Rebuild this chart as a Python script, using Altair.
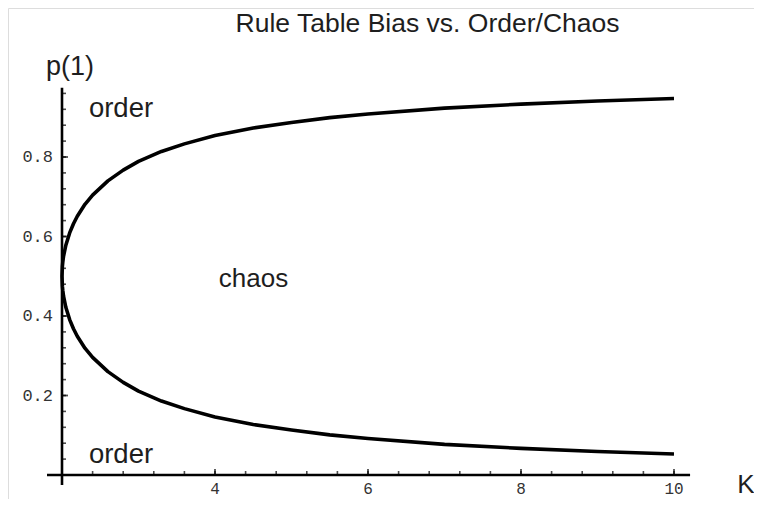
import altair as alt
import pandas as pd

# ---- data ----
K_values = [2.0, 2.005, 2.01, 2.02, 2.05, 2.1, 2.15, 2.2, 2.3, 2.4, 2.6, 2.8, 3.0,
            3.3, 3.6, 4.0, 4.5, 5.0, 5.5, 6.0, 7.0, 8.0, 9.0, 10.0]
upper_p = [0.5, 0.525, 0.535, 0.550, 0.578, 0.609, 0.632, 0.651, 0.681, 0.704, 0.740,
           0.767, 0.789, 0.814, 0.833, 0.854, 0.873, 0.887, 0.899, 0.908, 0.923,
           0.933, 0.941, 0.947]
lower_p = [0.5, 0.475, 0.465, 0.450, 0.422, 0.391, 0.368, 0.349, 0.319, 0.296, 0.260,
           0.233, 0.211, 0.186, 0.167, 0.146, 0.127, 0.113, 0.101, 0.092, 0.077,
           0.067, 0.059, 0.053]

x_tick_labels = [4, 6, 8, 10]
y_tick_labels = [0.2, 0.4, 0.6, 0.8]
x_minor_ticks = [2.4, 2.8, 3.2, 3.6, 4.0, 4.4, 4.8, 5.2, 5.6, 6.0, 6.4, 6.8, 7.2,
                 7.6, 8.0, 8.4, 8.8, 9.2, 9.6, 10.0]
y_minor_ticks = [0.04, 0.08, 0.12, 0.16, 0.20, 0.24, 0.28, 0.32, 0.36, 0.40, 0.44,
                 0.48, 0.52, 0.56, 0.60, 0.64, 0.68, 0.72, 0.76, 0.80, 0.84, 0.88,
                 0.92, 0.96]

title_text = "Rule Table Bias vs. Order/Chaos"
x_title = "K"
y_title = "p(1)"
region_labels = ["order", "chaos", "order"]

# ---- tables ----
curve_rows = []
idx = 0
for k, p in zip(reversed(K_values), reversed(upper_p)):
    curve_rows.append({"K": k, "p": p, "i": idx}); idx += 1
for k, p in zip(K_values[1:], lower_p[1:]):
    curve_rows.append({"K": k, "p": p, "i": idx}); idx += 1
curve_df = pd.DataFrame(curve_rows)

# plot geometry: page x = 62 + 76.5*(K-2), page y = 475 - 397.5*p, svg at page (8, 8)
W, H = 746, 491
XD = [2 - 54 / 76.5, 2 + (W - 54) / 76.5]
YD = [(467 - H) / 397.5, 467 / 397.5]
xs = alt.Scale(domain=XD, nice=False, zero=False)
ys = alt.Scale(domain=YD, nice=False, zero=False)

def X(f="K"):
    return alt.X(f"{f}:Q", scale=xs, axis=None)

def Y(f="p"):
    return alt.Y(f"{f}:Q", scale=ys, axis=None)

def page_y(py):
    return (475 - py) / 397.5

BLACK = "#000000"
TXT = "#1e1e1e"
SANS = "Liberation Sans"
MONO = "Liberation Mono"

# axes lines
xaxis = alt.Chart(pd.DataFrame({"K": [1.804], "K2": [10.21], "p": [0.0]})).mark_rule(
    color=BLACK, strokeWidth=2.6).encode(x=X(), x2="K2:Q", y=Y())
yaxis = alt.Chart(pd.DataFrame({"K": [2.0], "p": [-0.025], "p2": [0.974]})).mark_rule(
    color=BLACK, strokeWidth=2.6).encode(x=X(), y=Y(), y2="p2:Q")

# ticks
xminor = alt.Chart(pd.DataFrame({"K": x_minor_ticks, "p": [0.0] * len(x_minor_ticks)})).mark_tick(
    orient="vertical", size=4, thickness=1.6, color=BLACK, yOffset=-2).encode(x=X(), y=Y())
xmajor = alt.Chart(pd.DataFrame({"K": x_tick_labels, "p": [0.0] * len(x_tick_labels)})).mark_tick(
    orient="vertical", size=6, thickness=1.8, color=BLACK, yOffset=-3).encode(x=X(), y=Y())
yminor = alt.Chart(pd.DataFrame({"K": [2.0] * len(y_minor_ticks), "p": y_minor_ticks})).mark_tick(
    orient="horizontal", size=4, thickness=1.6, color=BLACK, xOffset=2).encode(x=X(), y=Y())
ymajor = alt.Chart(pd.DataFrame({"K": [2.0] * len(y_tick_labels), "p": y_tick_labels})).mark_tick(
    orient="horizontal", size=6, thickness=1.8, color=BLACK, xOffset=3).encode(x=X(), y=Y())

# tick labels
xlab_df = pd.DataFrame({"K": x_tick_labels, "p": [0.0] * len(x_tick_labels),
                        "t": [str(v) for v in x_tick_labels]})
xlabels = alt.Chart(xlab_df).mark_text(
    font=MONO, fontSize=16, color="#333333", align="center", baseline="alphabetic", dy=19
).encode(x=X(), y=Y(), text="t:N")
ylab_df = pd.DataFrame({"K": [2.0] * len(y_tick_labels), "p": y_tick_labels,
                        "t": [f"{v:.1f}" for v in y_tick_labels]})
ylabels = alt.Chart(ylab_df).mark_text(
    font=MONO, fontSize=17, color="#333333", align="right", baseline="middle", dx=-9
).encode(x=X(), y=Y(), text="t:N")

# curve
curve = alt.Chart(curve_df).mark_line(color=BLACK, strokeWidth=3.6, strokeJoin="round").encode(
    x=X(), y=Y(), order="i:Q")

# annotations
def txt(text, k, p, size, align="center"):
    return alt.Chart(pd.DataFrame({"K": [k], "p": [p], "t": [text]})).mark_text(
        font=SANS, fontSize=size, color=TXT, align=align, baseline="alphabetic"
    ).encode(x=X(), y=Y(), text="t:N")

ann = [
    txt(title_text, 6.778, page_y(32), 26.5),
    txt(y_title, 2.105, page_y(75), 27),
    txt(x_title, 10.941, page_y(493), 26),
    txt(region_labels[0], 2.771, page_y(117), 27.5),
    txt(region_labels[1], 4.503, page_y(287), 26),
    txt(region_labels[2], 2.771, page_y(463), 27.5),
]

chart = alt.layer(xaxis, yaxis, xminor, xmajor, yminor, ymajor, xlabels, ylabels, curve, *ann).properties(
    width=W, height=H, autosize=alt.AutoSizeParams(type="none"), padding=0
).configure_view(stroke=None).configure(background="white")

chart.save("out.html", embed_options={"renderer": "svg", "actions": False})
